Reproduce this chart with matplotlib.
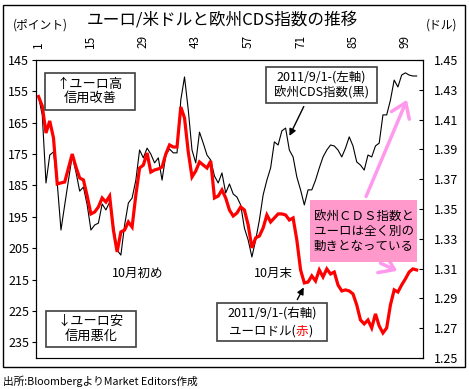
import matplotlib
matplotlib.use('Agg')
import matplotlib.pyplot as plt
from matplotlib.patches import Rectangle
import numpy as np

plt.rcParams['font.family'] = ['Noto Sans CJK JP', 'DejaVu Sans']

# data (2011/9/1 start, daily)
days = np.arange(1, 103)
# 欧州CDS指数 (left axis, inverted)
cds = [156.7, 162.5, 184.2, 175.3, 174.3, 184.2, 199.2, 191.2, 183.3, 175.6,
       180.7, 186.8, 185.5, 191.2, 199.2, 197.6, 197.0, 190.9, 192.8, 190.3,
       197.6, 205.6, 207.2, 197.6, 190.6, 189.0, 183.3, 173.7, 176.2, 173.1,
       175.0, 177.8, 176.2, 183.3, 175.3, 173.4, 174.6, 174.6, 157.8, 150.4,
       160.9, 173.7, 177.8, 168.0, 171.5, 175.3, 176.9, 182.0, 184.2, 181.0,
       187.4, 184.5, 187.7, 188.7, 191.2, 198.6, 202.4, 207.8, 202.4, 196.0,
       188.0, 183.3, 179.4, 171.1, 172.1, 167.6, 166.7, 173.7, 175.9, 182.3,
       186.4, 191.2, 186.4, 186.4, 183.3, 179.4, 175.9, 173.7, 172.1, 172.4,
       173.7, 175.9, 173.1, 169.5, 172.4, 177.5, 178.5, 180.1, 175.3, 175.9,
       172.4, 171.5, 162.5, 162.5, 157.8, 151.4, 153.6, 149.8, 149.1, 149.8,
       150.1, 150.1]
# ユーロドル (right axis)
eurusd = [1.4255, 1.4191, 1.4010, 1.4091, 1.3977, 1.3668, 1.3675, 1.3681, 1.3775, 1.3869,
          1.3782, 1.3708, 1.3695, 1.3587, 1.3467, 1.3480, 1.3514, 1.3574, 1.3547, 1.3587,
          1.3359, 1.3212, 1.3346, 1.3359, 1.3413, 1.3379, 1.3594, 1.3775, 1.3795, 1.3876,
          1.3748, 1.3762, 1.3769, 1.3782, 1.3869, 1.3930, 1.3916, 1.3916, 1.4185, 1.4111,
          1.3883, 1.3715, 1.3755, 1.3816, 1.3795, 1.3775, 1.3822, 1.3574, 1.3587, 1.3628,
          1.3574, 1.3493, 1.3453, 1.3473, 1.3514, 1.3493, 1.3393, 1.3239, 1.3306, 1.3319,
          1.3373, 1.3460, 1.3413, 1.3440, 1.3467, 1.3467, 1.3460, 1.3426, 1.3440, 1.3292,
          1.3091, 1.3004, 1.3010, 1.3051, 1.3017, 1.3091, 1.3044, 1.3098, 1.3064, 1.3077,
          1.2990, 1.2950, 1.2957, 1.2950, 1.2930, 1.2856, 1.2755, 1.2729, 1.2755, 1.2702,
          1.2796, 1.2715, 1.2668, 1.2702, 1.2856, 1.2957, 1.2943, 1.2990, 1.3031, 1.3077,
          1.3098, 1.3091]
xticks = [1, 15, 29, 43, 57, 71, 85, 99]
left_ticks = [145, 155, 165, 175, 185, 195, 205, 215, 225, 235]
right_ticks = [1.25, 1.27, 1.29, 1.31, 1.33, 1.35, 1.37, 1.39, 1.41, 1.43, 1.45]

W, H = 469, 389


def fx(x):
    return x / W


def fy(y):
    return 1 - y / H


fig = plt.figure(figsize=(W / 100, H / 100), dpi=100)

# outer frame
fig.add_artist(Rectangle((fx(3), fy(367)), fx(465) - fx(3), fy(5) - fy(367),
                         transform=fig.transFigure, fill=False, ec='black', lw=1))

ax = fig.add_axes([fx(36), fy(358), (423 - 36) / W, (358 - 60) / H])
ax.plot(days, cds, color='black', lw=0.8)
ax.set_ylim(240, 145)
ax.set_yticks(left_ticks)
ax.set_xlim(0.33, 103.7)
ax.xaxis.tick_top()
ax.set_xticks(xticks)
ax.tick_params(axis='x', rotation=90, length=0, labelsize=8.5, pad=9)
ax.tick_params(axis='y', direction='out', length=3, labelsize=9, pad=2)
ax.spines['bottom'].set_color('#808080')

ax2 = ax.twinx()
ax2.plot(days, eurusd, color='#ff0000', lw=2.3, solid_joinstyle='miter')
ax2.set_ylim(1.25, 1.45)
ax2.set_yticks(right_ticks)
ax2.yaxis.set_major_formatter(lambda v, p: f'{v:.2f}')
ax2.tick_params(axis='y', direction='in', length=3, labelsize=9, pad=8)
ax2.set_xlim(0.33, 103.7)

# titles and unit labels
fig.text(fx(222), fy(20), 'ユーロ/米ドルと欧州CDS指数の推移', ha='center', va='center', fontsize=12)
fig.text(fx(40), fy(25), '(ポイント)', ha='center', va='center', fontsize=8.5)
fig.text(fx(442), fy(25), '(ドル)', ha='center', va='center', fontsize=8.5)
fig.text(fx(3), fy(381), '出所:BloombergよりMarket Editors作成', ha='left', va='center', fontsize=7.7)

tf = fig.transFigure


def box(x0, y0, x1, y1, fc='white', ec='#404040'):
    ax2.add_patch(Rectangle((fx(x0), fy(y1)), fx(x1) - fx(x0), fy(y0) - fy(y1),
                            transform=tf, fc=fc, ec=ec, lw=1.2, zorder=5, clip_on=False))


def label(x, y, s, **kw):
    kw.setdefault('fontsize', 9)
    return ax2.text(fx(x), fy(y), s, transform=tf, ha=kw.pop('ha', 'center'), va='center',
                    zorder=6, clip_on=False, **kw)


box(45, 73, 135, 110)
label(90, 91.5, '↑ユーロ高\n信用改善', fontsize=9.5, linespacing=1.15)
box(46, 311, 136, 347)
label(91, 329, '↓ユーロ安\n信用悪化', fontsize=9.5, linespacing=1.15)

box(266, 67, 377, 103)
label(321.5, 85, '2011/9/1-(左軸)\n欧州CDS指数(黒)', linespacing=1.2)
ax.annotate('', xy=(67.7, 170), xytext=(fx(305), fy(104)), textcoords='figure fraction',
            arrowprops=dict(arrowstyle='-|>', color='black', lw=1, mutation_scale=10))

box(217, 303, 327, 341)
label(272, 313, '2011/9/1-(右軸)')
t1 = label(229, 331, 'ユーロドル(', ha='left')
t2 = ax2.annotate('赤', xy=(1, 0), xycoords=t1, va='bottom', ha='left', color='red',
                  fontsize=9, zorder=6, annotation_clip=False)
ax2.annotate(')', xy=(1, 0), xycoords=t2, va='bottom', ha='left', fontsize=9, zorder=6,
             annotation_clip=False)
ax2.annotate('', xy=(72.2, 1.299), xytext=(fx(296), fy(302)), textcoords='figure fraction',
             arrowprops=dict(arrowstyle='-|>', color='black', lw=1, mutation_scale=10),
             zorder=6)

# pink note
box(310, 200, 417, 262, fc='#ff99cc', ec='none')
label(363.5, 231, '欧州ＣＤＳ指数と\nユーロは全く別の\n動きとなっている', linespacing=1.2)
pink = dict(arrowstyle='->,head_length=0.5,head_width=0.35', color='#ff99ee', lw=2.5,
            mutation_scale=20)
ax2.annotate('', xy=(99.7, 1.425), xytext=(fx(365), fy(199)), textcoords='figure fraction',
             arrowprops=pink, zorder=4)
ax2.annotate('', xy=(97.5, 1.3077), xytext=(fx(378), fy(262)), textcoords='figure fraction',
             arrowprops=pink, zorder=4)

ax.text(20.5, 213, '10月初め', ha='left', va='center', fontsize=9)
ax.text(58.5, 213, '10月末', ha='left', va='center', fontsize=9)

fig.savefig('out.png', dpi=100)
